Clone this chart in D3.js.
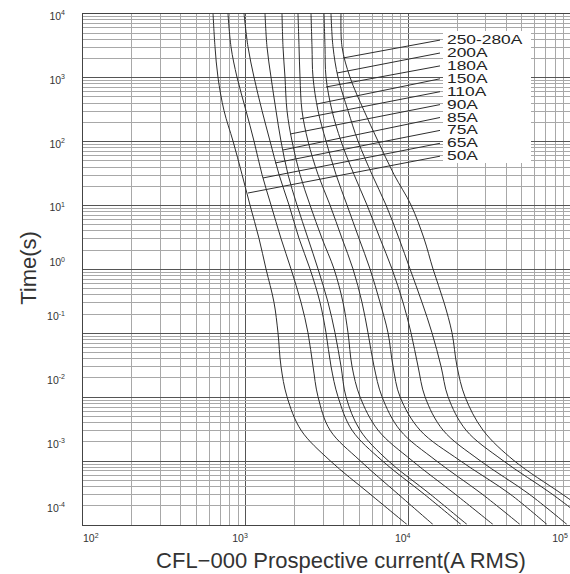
<!DOCTYPE html>
<html><head><meta charset="utf-8">
<script src="https://cdn.jsdelivr.net/npm/d3@7"></script>
<style>body{margin:0;background:#fff}svg{display:block}</style>
</head><body>
<svg id="c" width="570" height="574"></svg>
<script>
// ---- data ----
const times = [1e4, 3e3, 1e3, 300, 100, 30, 10, 3, 1, 0.3, 0.1, 0.03, 0.01, 0.003, 0.001, 3e-4, 1e-4];
const ratings = ["50A", "65A", "75A", "85A", "90A", "110A", "150A", "180A", "200A", "250-280A"];
const curr50A  = [636, 654, 682, 743, 844, 959, 1073, 1219, 1346, 1507, 1595, 1664, 1812, 2209, 3330, 5866, 9900];
const curr65A  = [786, 820, 893, 1014, 1136, 1272, 1445, 1664, 1917, 2209, 2439, 2618, 2810, 3330, 5091, 8717, 14300];
const curr75A  = [986, 1043, 1136, 1272, 1425, 1618, 1864, 2148, 2509, 2890, 3147, 3377, 3729, 4546, 6950, 12590, 21260];
const curr85A  = [1327, 1365, 1445, 1551, 1664, 1838, 2087, 2439, 2810, 3237, 3574, 3891, 4176, 5091, 7567, 13710, 23150];
const curr90A  = [1688, 1712, 1761, 1812, 1945, 2178, 2509, 2973, 3524, 4002, 4296, 4546, 5091, 6568, 10630, 19530, 33440];
const curr110A = [2117, 2148, 2178, 2240, 2439, 2810, 3330, 3946, 4610, 5237, 5701, 6206, 6950, 8966, 14930, 28620, 48990];
const curr150A = [2545, 2581, 2618, 2810, 3147, 3625, 4235, 5020, 5865, 6756, 7567, 8121, 8966, 11900, 20960, 42540, 71800];
const curr180A = [3059, 3102, 3147, 3425, 3891, 4676, 5621, 6756, 8007, 9355, 10480, 11570, 12770, 16480, 27820, 55660, 95290];
const curr200A = [3377, 3474, 3729, 4296, 4949, 6033, 7355, 8841, 10330, 12240, 14100, 16020, 17690, 22820, 38520, 77070, 135700];
const curr250A = [3891, 3946, 4419, 5387, 6568, 8237, 10480, 12590, 14300, 16710, 18720, 20090, 22500, 29020, 45010, 88780, 165500];
const seriesCurrents = [curr50A, curr65A, curr75A, curr85A, curr90A, curr110A, curr150A, curr180A, curr200A, curr250A];
// where each label's leader touches its curve
const leaderCurrent = [1043, 1290, 1529, 1712, 1890, 2178, 2770, 3147, 3677, 4002];
const leaderTime    = [15.4, 26.5, 45.4, 72.6, 129, 222, 381, 703, 1163, 1997];
const xTickExp = [2, 3, 4, 5];
const yTickExp = [4, 3, 2, 1, 0, -1, -2, -3, -4];
const xTitle = "CFL\u2212000 Prospective current(A RMS)";
const yTitle = "Time(s)";

// ---- drawing ----
const svg = d3.select("#c");
const L = 82.3, R = 570.4, T = 13.3, B = 524.5;
const x = d3.scaleLog().domain([1e2, 1e5]).range([L, R]);
const y = d3.scaleLog().domain([1e-4, 1e4]).range([B, T]);

svg.append("defs").append("clipPath").attr("id", "plot")
  .append("rect").attr("x", L).attr("y", T).attr("width", R - L).attr("height", B - T);

const grid = svg.append("g").attr("shape-rendering", "crispEdges");
// vertical grid
const xVals = [];
for (let e = 2; e < 5; e++) for (let m = 1; m <= 9; m++) xVals.push({v: m * Math.pow(10, e), major: m === 1});
xVals.push({v: 1e5, major: true});
grid.selectAll("line.v").data(xVals).join("line")
  .attr("x1", d => Math.round(x(d.v)) + 0.5).attr("x2", d => Math.round(x(d.v)) + 0.5)
  .attr("y1", T).attr("y2", B)
  .attr("stroke", d => d.major ? "#555" : "#a8a8a8").attr("stroke-width", 1);
// horizontal grid
const yVals = [];
for (let e = -4; e < 4; e++) for (let m = 1; m <= 9; m++) yVals.push({v: m * Math.pow(10, e), major: m === 1});
yVals.push({v: 1e4, major: true});
grid.selectAll("line.h").data(yVals).join("line")
  .attr("y1", d => Math.round(y(d.v)) + 0.5).attr("y2", d => Math.round(y(d.v)) + 0.5)
  .attr("x1", L).attr("x2", R)
  .attr("stroke", d => d.major ? "#555" : "#a8a8a8").attr("stroke-width", d => d.major ? 1.3 : 1);
// frame
grid.append("line").attr("x1", Math.round(L) + 0.5).attr("x2", Math.round(L) + 0.5).attr("y1", T).attr("y2", B).attr("stroke", "#444");
grid.append("line").attr("x1", L).attr("x2", R).attr("y1", Math.round(B) + 0.5).attr("y2", Math.round(B) + 0.5).attr("stroke", "#444");
grid.append("line").attr("x1", L).attr("x2", R).attr("y1", Math.round(T) + 0.5).attr("y2", Math.round(T) + 0.5).attr("stroke", "#444");

// curves
const line = d3.line().x(d => x(d[0])).y(d => y(d[1])).curve(d3.curveCatmullRom.alpha(0.5));
svg.append("g").attr("clip-path", "url(#plot)")
  .selectAll("path").data(seriesCurrents).join("path")
  .attr("d", cs => line(cs.map((c, i) => [c, times[i]])))
  .attr("fill", "none").attr("stroke", "#2e2e2e").attr("stroke-width", 1);

// label box, leaders and labels
svg.append("rect").attr("x", 443).attr("y", 31).attr("width", 88).attr("height", 132).attr("fill", "#fff");
const lab = svg.append("g");
ratings.forEach((r, i) => {
  const cy = 155.7 - i * 12.9;
  lab.append("line")
    .attr("x1", x(leaderCurrent[i])).attr("y1", y(leaderTime[i]))
    .attr("x2", 440).attr("y2", cy + 0.5)
    .attr("stroke", "#2e2e2e").attr("stroke-width", 1);
  lab.append("text")
    .attr("transform", `translate(447,${cy + 4.5}) scale(1.39,1)`)
    .attr("font-family", "Liberation Sans, Arial, sans-serif").attr("font-size", 12.5)
    .attr("fill", "#222").text(r);
});

// tick labels
const fam = "Liberation Sans, Arial, sans-serif";
function tickLabel(g, e) {
  g.append("tspan").attr("font-size", 10.5).text("10");
  g.append("tspan").attr("font-size", 7).attr("dy", -4.5).text(String(e));
}
xTickExp.forEach(e => {
  let cx = x(Math.pow(10, e)) - 5;
  if (cx - 7 < L) cx = L + 8.5;
  if (cx + 8 > 568) cx = 560;
  const t = svg.append("text").attr("x", cx).attr("y", 542).attr("text-anchor", "middle")
    .attr("font-family", fam).attr("fill", "#333");
  tickLabel(t, e);
});
yTickExp.forEach(e => {
  const shift = e >= 1 ? 2.6 : (e === 0 ? -6.5 : -16.6);
  const t = svg.append("text").attr("x", 65).attr("y", y(Math.pow(10, e)) + shift + 3.8)
    .attr("text-anchor", "end").attr("font-family", fam).attr("fill", "#333");
  tickLabel(t, e);
});

// axis titles
svg.append("text").attr("x", 341).attr("y", 567.5).attr("text-anchor", "middle")
  .attr("font-family", fam).attr("font-size", 22).attr("fill", "#333").text(xTitle);
svg.append("text").attr("transform", "translate(36,268) rotate(-90)").attr("text-anchor", "middle")
  .attr("font-family", fam).attr("font-size", 22).attr("fill", "#333").text(yTitle);
</script>
</body></html>
